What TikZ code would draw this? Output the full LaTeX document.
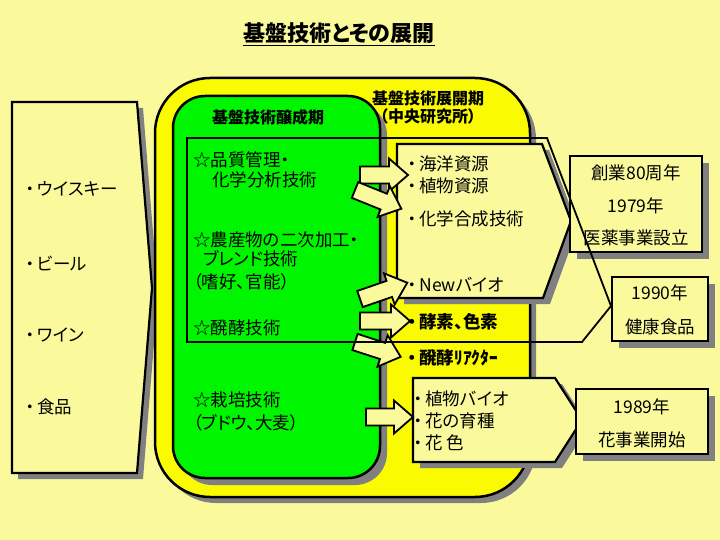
\documentclass[tikz,border=0pt]{standalone}
\usepackage{fontspec}
\setmainfont{Noto Sans CJK JP}[RawFeature=+palt]
\definecolor{bgy}{RGB}{250,250,156}
\definecolor{boxy}{RGB}{250,250,156}
\definecolor{yel}{RGB}{250,250,0}
\definecolor{grn}{RGB}{0,245,0}
\definecolor{shd}{RGB}{128,128,128}
\newcommand\dt{・\kern2.5pt}
\newcommand\blockarr[4]{%
  \draw[arrsty, shift={(#1,#2)}, rotate=#3] (0,-8.5) -- (#4-19,-8.5) -- (#4-19,-16.5) -- (#4,0) -- (#4-19,16.5) -- (#4-19,8.5) -- (0,8.5) -- cycle;}
\begin{document}
\begin{tikzpicture}[x=1pt,y=-1pt,
  shadow/.style={fill=shd, draw=none},
  boxsty/.style={fill=boxy, draw=black, line width=2.2pt, line join=miter},
  arrsty/.style={fill=boxy, draw=black, line width=1.8pt, line join=miter},
  txt/.style={font=\fontsize{17.5}{20}\selectfont, inner sep=0pt, anchor=west},
  ctxt/.style={font=\fontsize{17.5}{20}\selectfont, inner sep=0pt},
  btxt/.style={font=\fontsize{16}{19}\bfseries, inner sep=0pt},
  titlesty/.style={font=\fontsize{22}{26}\bfseries, inner sep=0pt}]
\useasboundingbox (0,0) rectangle (720,540);
\fill[bgy] (0,0) rectangle (720,540);

% title
\node[titlesty] (title) at (339,33) {基盤技術とその展開};
\draw[line width=1.2pt] ([yshift=-1.5pt]title.south west) -- ([yshift=-1.5pt]title.south east);

% left pentagon
\fill[shadow] (18,108) -- (143,108) -- (158,294) -- (143,479) -- (18,479) -- cycle;
\draw[boxsty] (12,102) -- (137,102) -- (152,288) -- (137,473) -- (12,473) -- cycle;
\node[txt] (w1) at (26,189) {\dt ウイスキー};
\node[txt] (w2) at (26,263) {\dt ビール};
\node[txt] (w3) at (26,335) {\dt ワイン};
\node[txt] (w4) at (26,407) {\dt 食品};

% yellow rounded rect
\fill[shadow, rounded corners=55pt] (161,84) rectangle (536,503);
\draw[fill=yel, line width=2.5pt, rounded corners=55pt] (155,78) rectangle (530,497);
% green rounded rect
\fill[shadow, rounded corners=32pt] (180,103) rectangle (387,485);
\draw[fill=grn, line width=2.5pt, rounded corners=32pt] (173,96) rectangle (380,478);

% labels
\node[btxt] (lg) at (268,117) {基盤技術醸成期};
\node[btxt] (ly1) at (428,98) {基盤技術展開期};
\node[btxt] (ly2) at (428,116) {（中央研究所）};

% green texts
\node[txt] (g1) at (193,160) {☆品質管理・};
\node[txt] (g2) at (212,180) {化学分析技術};
\node[txt] (g3) at (193,240) {☆農産物の二次加工・};
\node[txt] (g4) at (203,259) {ブレンド技術};
\node[txt] (g5) at (193,282) {（嗜好、官能）};
\node[txt] (g6) at (193,328) {☆醗酵技術};
\node[txt] (g7) at (193,400) {☆栽培技術};
\node[txt] (g8) at (193,423) {（ブドウ、大麦）};

% box A
\fill[shadow] (404,150) -- (549,150) -- (578,227) -- (550,304) -- (404,304) -- cycle;
\draw[boxsty] (397,144) -- (542,144) -- (571,221) -- (543,298) -- (397,298) -- cycle;
\node[txt] (a1) at (408,164) {\dt 海洋資源};
\node[txt] (a2) at (408,186) {\dt 植物資源};
\node[txt] (a3) at (408,219) {\dt 化学合成技術};
\node[txt] (a4) at (408,285) {\dt Newバイオ};

% yellow region texts
\node[txt, font=\fontsize{17.5}{20}\bfseries] (y1) at (408,322) {\dt 酵素、色素};
\node[txt, font=\fontsize{17.5}{20}\bfseries] (y2) at (408,358) {\dt 醗酵ﾘｱｸﾀｰ};

% box B
\fill[shadow] (420,384) -- (562,384) -- (589,426) -- (562,468) -- (420,468) -- cycle;
\draw[boxsty] (413,378) -- (555,378) -- (582,420) -- (555,462) -- (413,462) -- cycle;
\node[txt] (b1) at (414,399) {\dt 植物バイオ};
\node[txt] (b2) at (414,421) {\dt 花の育種};
\node[txt] (b3) at (414,443) {\dt 花 色};

% box C
\fill[shadow] (577,163) rectangle (709,259);
\draw[boxsty] (570,156) rectangle (702,252);
\node[ctxt] (c1) at (636,173) {創業80周年};
\node[ctxt] (c2) at (636,206) {1979年};
\node[ctxt] (c3) at (636,238) {医薬事業設立};

% arrows
\blockarr{360}{175}{0}{48}
\blockarr{355}{190}{-22}{50}
\blockarr{360}{299}{19}{50}
\blockarr{360}{321}{0}{50}
\blockarr{355}{342}{-18}{48}
\blockarr{366}{417}{0}{47}

% outline
\draw[line width=1.8pt, line join=miter] (187,138) -- (547,138) -- (611,306) -- (582,342) -- (187,342) -- cycle;

% box D
\fill[shadow] (619,284) rectangle (715,348);
\draw[boxsty] (612,277) rectangle (708,341);
\node[ctxt] (d1) at (660,293) {1990年};
\node[ctxt] (d2) at (660,327) {健康食品};

% box E
\fill[shadow] (583,396) rectangle (715,461);
\draw[boxsty] (576,389) rectangle (708,454);
\node[ctxt] (e1) at (642,407) {1989年};
\node[ctxt] (e2) at (642,440) {花事業開始};
\end{tikzpicture}
\end{document}
